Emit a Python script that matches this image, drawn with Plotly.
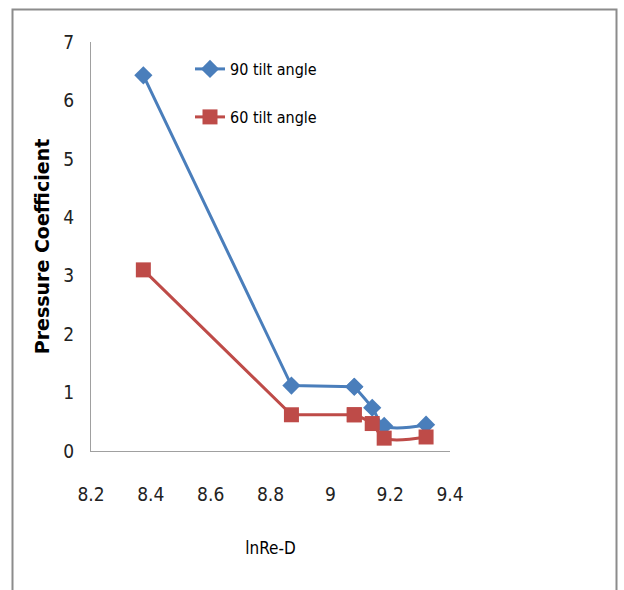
import plotly.graph_objects as go

# Data
ln_re_90 = [8.375, 8.87, 9.08, 9.14, 9.18, 9.32]
cp_90 = [6.43, 1.12, 1.10, 0.74, 0.43, 0.45]

ln_re_60 = [8.375, 8.87, 9.08, 9.14, 9.18, 9.32]
cp_60 = [3.10, 0.62, 0.62, 0.47, 0.22, 0.24]

series_names = ["90 tilt angle", "60 tilt angle"]
x_ticks = [8.2, 8.4, 8.6, 8.8, 9.0, 9.2, 9.4]
x_tick_text = ["8.2", "8.4", "8.6", "8.8", "9", "9.2", "9.4"]
y_ticks = [0, 1, 2, 3, 4, 5, 6, 7]

BLUE = "#4A7EBB"
RED = "#BE4B48"
NARROW = "Liberation Sans Narrow, DejaVu Sans Condensed, Arial Narrow, sans-serif"

fig = go.Figure()
series = [
    (ln_re_90, cp_90, series_names[0], BLUE, "diamond", 14, "legend"),
    (ln_re_60, cp_60, series_names[1], RED, "square", 15, "legend2"),
]
for xs, ys, name, color, sym, msize, leg in series:
    # long first segments drawn straight
    fig.add_trace(go.Scatter(
        x=xs[:3], y=ys[:3], mode="lines+markers", showlegend=False,
        line=dict(color=color, width=3),
        marker=dict(symbol=sym, size=msize, color=color),
        hoverinfo="skip",
    ))
    fig.add_trace(go.Scatter(
        x=xs[2:], y=ys[2:], name=name, mode="lines+markers",
        line=dict(color=color, width=3, shape="spline", smoothing=1.0),
        marker=dict(symbol=sym, size=msize, color=color),
        legend=leg,
    ))

L, R, T, B = 91, 624 - 450, 42, 590 - 451
pw = 624 - L - R
ph = 590 - T - B

def px_x(x):
    return (x - L) / pw

def px_y(y):
    return (590 - B - y) / ph

fig.update_layout(
    width=624, height=590,
    margin=dict(l=L, r=R, t=T, b=B),
    paper_bgcolor="white", plot_bgcolor="white",
    showlegend=True,
    legend=dict(x=px_x(190), y=px_y(69), xanchor="left", yanchor="middle",
                font=dict(family=NARROW, size=16, color="#000"),
                bgcolor="rgba(0,0,0,0)", itemwidth=30),
    legend2=dict(x=px_x(190), y=px_y(117), xanchor="left", yanchor="middle",
                 font=dict(family=NARROW, size=16, color="#000"),
                 bgcolor="rgba(0,0,0,0)", itemwidth=30),
    xaxis=dict(
        range=[8.2, 9.4], tickvals=x_ticks, ticktext=x_tick_text,
        showgrid=False, zeroline=False, showline=True, linecolor="#A0A0A0", linewidth=1,
        ticks="", tickfont=dict(family=NARROW, size=19, color="#222"), ticklabelstandoff=26,
        title=dict(text="lnRe-D", font=dict(family=NARROW, size=17, color="#000"), standoff=38),
    ),
    yaxis=dict(
        range=[0, 7], tickvals=y_ticks,
        showgrid=False, zeroline=False, showline=True, linecolor="#A0A0A0", linewidth=1,
        ticks="", tickfont=dict(family=NARROW, size=19, color="#222"), ticklabelstandoff=12,
        title=dict(text="Pressure Coefficient", font=dict(family="DejaVu Sans", size=19, color="#000", weight="bold"), standoff=8),
    ),
    shapes=[dict(type="rect", xref="paper", yref="paper",
                 x0=px_x(12.5), x1=px_x(616.5), y0=px_y(620), y1=px_y(9.5),
                 line=dict(color="#8C8C8C", width=2), fillcolor="rgba(0,0,0,0)", layer="below")],
)

fig.write_html("out.html")
